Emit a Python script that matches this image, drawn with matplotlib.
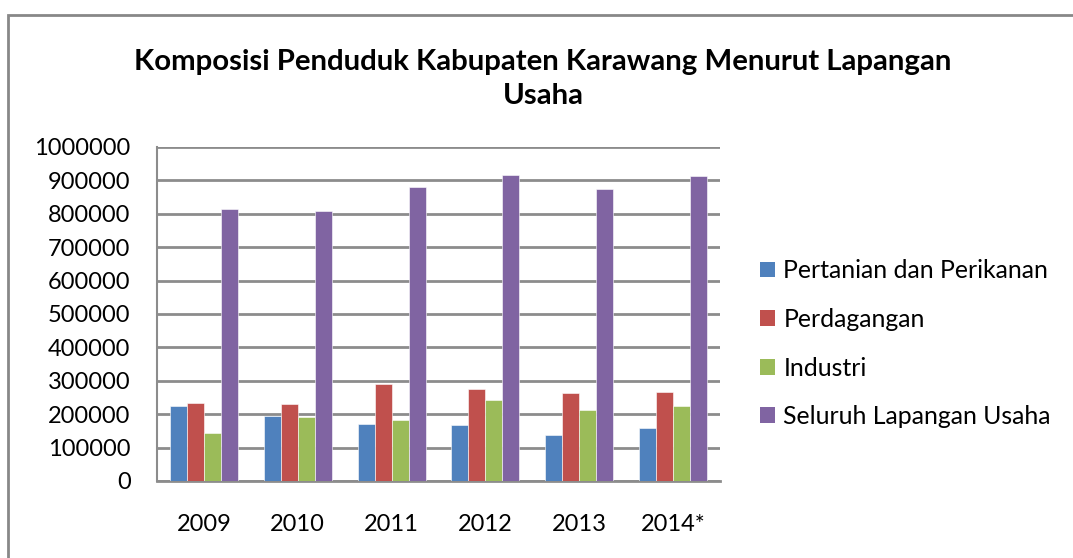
import numpy as np
import matplotlib.pyplot as plt
from matplotlib.patches import Patch

# Data
tahun = ['2009', '2010', '2011', '2012', '2013', '2014*']
pertanian = [225000, 195000, 172000, 167000, 139000, 159000]
perdagangan = [233000, 230000, 289000, 276000, 263000, 266000]
industri = [143000, 191000, 184000, 242000, 213000, 225000]
seluruh = [815000, 808000, 880000, 917000, 875000, 913000]

seri = [
    ('Pertanian dan Perikanan', pertanian, '#4F81BD'),
    ('Perdagangan', perdagangan, '#C0504D'),
    ('Industri', industri, '#9BBB59'),
    ('Seluruh Lapangan Usaha', seluruh, '#8064A2'),
]

plt.rcParams['font.family'] = ['Lato', 'DejaVu Sans']

fig = plt.figure(figsize=(10.73, 5.58), dpi=100)
ax = fig.add_axes([0.1463, 0.138, 0.5247, 0.5986])

# bingkai luar
fig.patches.append(plt.Rectangle((8 / 1073, -0.1), 1.2, 1.1 - 15 / 558,
                                 transform=fig.transFigure, fill=False,
                                 edgecolor='#888888', linewidth=2))

x = np.arange(len(tahun))
w = 0.181
for i, (nama, nilai, warna) in enumerate(seri):
    ax.bar(x + (i - 1.5) * w, nilai, width=w, color=warna, label=nama,
           edgecolor='white', linewidth=0.4, zorder=3)

ax.set_xlim(-0.5, len(tahun) - 0.5)
ax.set_ylim(0, 1000000)
ax.set_yticks(np.arange(0, 1000001, 100000))
ax.set_yticklabels([str(v) for v in range(0, 1000001, 100000)])
ax.set_xticks(x)
ax.set_xticklabels(tahun)
ax.tick_params(axis='y', length=0, pad=19, labelsize=17)
ax.tick_params(axis='x', length=0, pad=24, labelsize=17)

ax.grid(axis='y', color='#8c8c8c', linewidth=2, zorder=0)
for s in ['top', 'right']:
    ax.spines[s].set_visible(False)
ax.spines['left'].set_color('#8c8c8c')
ax.spines['bottom'].set_color('#8c8c8c')
ax.spines['left'].set_linewidth(1.5)
ax.spines['bottom'].set_linewidth(2)

fig.text(0.506, 0.858, 'Komposisi Penduduk Kabupaten Karawang Menurut Lapangan\nUsaha',
         ha='center', va='center', fontsize=21.2, fontweight='bold', linespacing=1.38)

handles = [Patch(facecolor=c, label=n) for n, _, c in seri]
fig.legend(handles=handles, loc='center left', bbox_to_anchor=(0.6873, 0.384),
           frameon=False, fontsize=17.9, handlelength=0.6, handleheight=0.6,
           handletextpad=0.35, labelspacing=1.03)

fig.savefig('out.png', dpi=100)
